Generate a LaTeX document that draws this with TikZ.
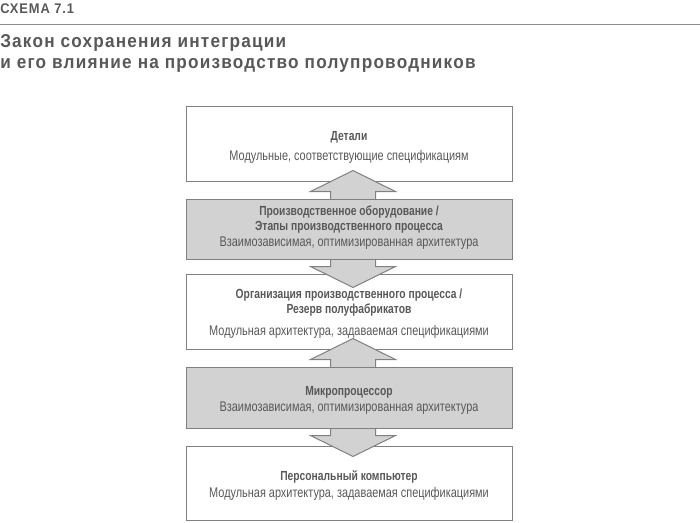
\documentclass[tikz,border=0pt]{standalone}
\usepackage{fontspec}
\setmainfont[FakeStretch=0.78]{Liberation Sans}
\newfontfamily\titlefont[FakeStretch=0.92,LetterSpace=6.5]{Liberation Sans}
\usetikzlibrary{calc}
\newcommand{\hd}[1]{{\fontsize{9.9}{11.25}\selectfont\bfseries #1}}

\pgfdeclarelayer{background}
\pgfsetlayers{background,main}

\begin{document}
\begin{tikzpicture}[x=0.75pt,y=0.75pt,yscale=-1,xscale=1,
  txt/.style={text={rgb, 255:red, 88; green, 88; blue, 88}},
  whitebox/.style={draw={rgb, 255:red, 128; green, 128; blue, 128}, line width=0.75, minimum width=244.5pt, inner sep=0pt},
  greybox/.style={whitebox, fill={rgb, 255:red, 210; green, 210; blue, 210}},
  boxtext/.style={txt, inner sep=0pt, align=center, font=\fontsize{10.5}{11.25}\selectfont},
  fatarrow/.style={draw={rgb, 255:red, 128; green, 128; blue, 128}, line width=0.75, fill={rgb, 255:red, 210; green, 210; blue, 210}, line join=miter}]
\useasboundingbox (0,0) rectangle (700,522);

%Text: header
\node[txt, anchor=base west, inner sep=0pt, font=\titlefont\fontsize{10.5}{12}\selectfont\bfseries] (scheme) at (0,13) {СХЕМА 7.1};
%Straight Lines
\draw [color={rgb, 255:red, 140; green, 140; blue, 140 }, line width=0.75]   (0,24) -- (700,24) ;
%Text: title
\node[txt, anchor=base west, inner sep=0pt, font=\titlefont\fontsize{14}{16}\selectfont\bfseries] (title1) at (0,47) {Закон сохранения интеграции};
\node[txt, anchor=base west, inner sep=0pt, font=\titlefont\fontsize{14}{16}\selectfont\bfseries] (title2) at (0,68) {и его влияние на производство полупроводников};

%Shape: Rectangle (grey)
\node[greybox, minimum height=45pt] (equip) at (349,229) {};
\node[greybox, minimum height=45.75pt] (cpu) at (349,397.5) {};

\begin{pgfonlayer}{background}
%Shape: Rectangle (white)
\node[whitebox, minimum height=56.25pt] (parts) at (349,143.5) {};
\node[whitebox, minimum height=55.9pt] (orga) at (349,312) {};
\node[whitebox, minimum height=55.5pt] (pc) at (349,483) {};

%Shape: Double Arrow
\draw [fatarrow] ($(equip.north)+(4,-28)$) -- ($(equip.north)+(46.5,-7)$) -- ($(equip.north)+(26.5,-7)$) -- ($(equip.south)+(26.5,7)$) -- ($(equip.south)+(46.5,7)$) -- ($(equip.south)+(4,28)$) -- ($(equip.south)+(-38.5,7)$) -- ($(equip.south)+(-18.5,7)$) -- ($(equip.north)+(-18.5,-7)$) -- ($(equip.north)+(-38.5,-7)$) -- cycle ;
%Shape: Double Arrow
\draw [fatarrow] ($(cpu.north)+(4,-28)$) -- ($(cpu.north)+(46.5,-7)$) -- ($(cpu.north)+(26.5,-7)$) -- ($(cpu.south)+(26.5,7)$) -- ($(cpu.south)+(46.5,7)$) -- ($(cpu.south)+(4,28)$) -- ($(cpu.south)+(-38.5,7)$) -- ($(cpu.south)+(-18.5,7)$) -- ($(cpu.north)+(-18.5,-7)$) -- ($(cpu.north)+(-38.5,-7)$) -- cycle ;
\end{pgfonlayer}

%Text: box contents
\node[boxtext] (parts text) at ($(parts.center)+(0,4)$) {\hd{Детали}\\[3.75pt] Модульные, соответствующие спецификациям};
\node[boxtext] (equip text) at ($(equip.center)+(0,-1)$) {\hd{Производственное оборудование /}\\\hd{Этапы производственного процесса}\\[0.75pt] Взаимозависимая, оптимизированная архитектура};
\node[boxtext] (orga text) at ($(orga.center)+(0,2)$) {\hd{Организация производственного процесса /}\\\hd{Резерв полуфабрикатов}\\[5.25pt] Модульная архитектура, задаваемая спецификациями};
\node[boxtext] (cpu text) at ($(cpu.center)+(0,3)$) {\hd{Микропроцессор}\\[1.25pt] Взаимозависимая, оптимизированная архитектура};
\node[boxtext] (pc text) at ($(pc.center)+(0,2.5)$) {\hd{Персональный компьютер}\\[1.5pt] Модульная архитектура, задаваемая спецификациями};
\end{tikzpicture}
\end{document}
